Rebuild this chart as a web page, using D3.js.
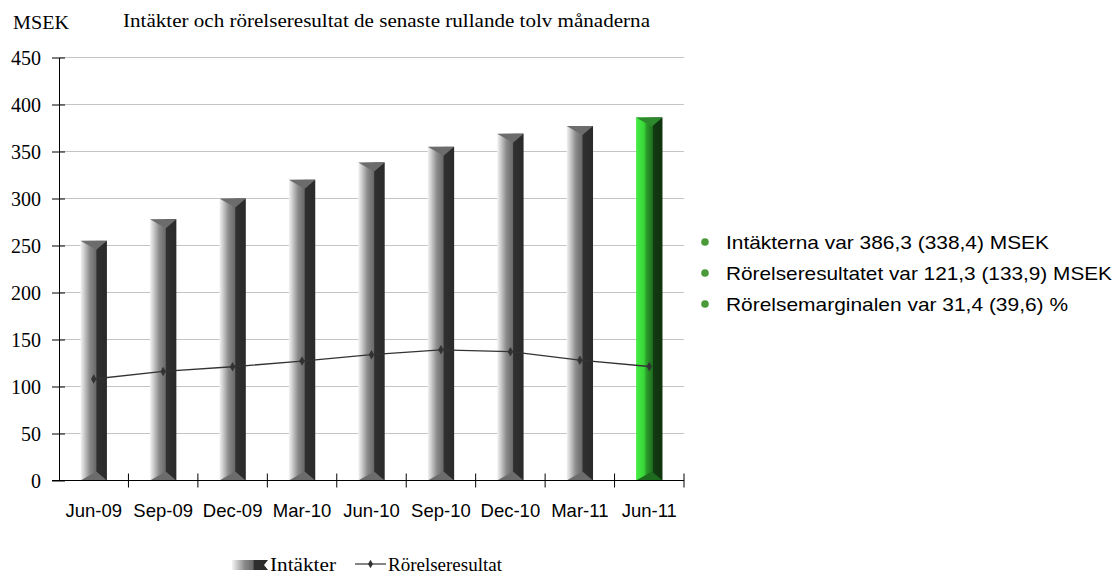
<!DOCTYPE html>
<html><head><meta charset="utf-8">
<script src="https://cdn.jsdelivr.net/npm/d3@7"></script>
<style>body{margin:0;background:#fff;} svg{display:block;}</style>
</head><body>
<svg id="c" width="1118" height="576"></svg>
<script>
const categories = ["Jun-09","Sep-09","Dec-09","Mar-10","Jun-10","Sep-10","Dec-10","Mar-11","Jun-11"];
const intakter = [255, 278, 300, 320, 338.4, 355, 369, 377, 386.3];
const rorelseresultat = [108, 116, 121, 127, 133.9, 139, 137, 128, 121.3];
const yTicks = [0,50,100,150,200,250,300,350,400,450];
const notes = ["Intäkterna var 386,3 (338,4) MSEK","Rörelseresultatet var 121,3 (133,9) MSEK","Rörelsemarginalen var 31,4 (39,6) %"];
const noteWidths = [323, 386, 342];

const SERIF = "'Liberation Serif', 'Times New Roman', serif";
const SANS = "'Liberation Sans', Arial, sans-serif";
const svg = d3.select("#c");
const L = 59, R = 684, T = 57.5, B = 480.5;
const x = d3.scaleBand().domain(categories).range([L,R]).paddingInner(0.62).paddingOuter(0.31);
const y = d3.scaleLinear().domain([0,450]).range([B,T]);

const defs = svg.append("defs");
function grad(id, stops){
  const g = defs.append("linearGradient").attr("id",id).attr("x1","0").attr("x2","1").attr("y1","0").attr("y2","0");
  stops.forEach(s=>g.append("stop").attr("offset",s[0]).attr("stop-color",s[1]));
}
grad("gGray",[[0,"#f4f4f4"],[0.15,"#c8c8c8"],[0.35,"#8a8a8a"],[0.58,"#6a6a6a"],[0.62,"#303030"],[1,"#2a2a2a"]]);
grad("gGreen",[[0,"#44ee44"],[0.3,"#39d639"],[0.4,"#2a9a2a"],[0.62,"#1f701f"],[0.66,"#123a12"],[1,"#0f330f"]]);

// gridlines
svg.append("g").selectAll("line").data(yTicks.filter(d=>d>0)).join("line")
  .attr("x1",L).attr("x2",R).attr("y1",d=>y(d)).attr("y2",d=>y(d))
  .attr("stroke","#c4c4c4").attr("stroke-width",1.2);

// bars
const bw = x.bandwidth();
const last = categories.length-1;
const bars = svg.append("g").selectAll("g").data(categories).join("g");
bars.append("rect")
  .attr("x",d=>x(d)).attr("width",bw)
  .attr("y",(d,i)=>y(intakter[i])).attr("height",(d,i)=>B-y(intakter[i]))
  .attr("fill",(d,i)=>i===last?"url(#gGreen)":"url(#gGray)");
const bev = 9;
bars.append("path").attr("d",(d,i)=>{
  const x0=x(d), x1=x0+bw, t=y(intakter[i]);
  return `M${x0},${t}L${x1},${t}L${x0+bw*0.6},${t+bev}Z`;
}).attr("fill",(d,i)=>i===last?"#2c8a2c":"#6c6c6c");
bars.append("path").attr("d",(d,i)=>{
  const x0=x(d), x1=x0+bw;
  return `M${x0},${B}L${x1},${B}L${x0+bw*0.6},${B-bev}Z`;
}).attr("fill",(d,i)=>i===last?"#1e6a1e":"#6c6c6c");

// y axis
const yAxis = svg.append("g").attr("transform",`translate(${L},0)`)
  .call(d3.axisLeft(y).tickValues(yTicks).tickSize(0).tickPadding(18));
yAxis.selectAll("text").attr("font-family",SERIF).attr("font-size",20).attr("fill","#000").attr("dy","0.35em");
yAxis.select(".domain").attr("stroke","#000");
yAxis.selectAll(".tick").append("line").attr("x1",-7).attr("x2",6).attr("stroke","#000");

// x axis
const xb = svg.append("g").attr("transform",`translate(0,${B})`);
xb.append("line").attr("x1",L-7).attr("x2",R).attr("stroke","#000");
const bounds = d3.range(categories.length+1).map(i=>L+i*(R-L)/categories.length);
xb.selectAll("line.t").data(bounds.slice(1)).join("line").attr("class","t")
  .attr("x1",d=>d).attr("x2",d=>d).attr("y1",-7).attr("y2",7).attr("stroke","#000");
xb.selectAll("text").data(categories).join("text")
  .attr("x",d=>x(d)+bw/2).attr("y",36).attr("text-anchor","middle")
  .attr("font-family",SANS).attr("font-size",18.5).attr("fill","#000")
  .text(d=>d);

// line
const lineGen = d3.line().x((d,i)=>x(categories[i])+bw/2).y(d=>y(d));
svg.append("path").datum(rorelseresultat).attr("d",lineGen)
  .attr("fill","none").attr("stroke","#333").attr("stroke-width",1.3);
svg.append("g").selectAll("path").data(rorelseresultat).join("path")
  .attr("transform",(d,i)=>`translate(${x(categories[i])+bw/2},${y(d)})`)
  .attr("d",d3.symbol(d3.symbolDiamond,26)).attr("fill","#333");

// titles
svg.append("text").attr("x",13).attr("y",29).attr("font-family",SERIF).attr("font-size",19)
  .attr("textLength",56).attr("lengthAdjust","spacingAndGlyphs").text("MSEK");
svg.append("text").attr("x",123).attr("y",27).attr("font-family",SERIF).attr("font-size",19)
  .attr("textLength",527).attr("lengthAdjust","spacingAndGlyphs")
  .text("Intäkter och rörelseresultat de senaste rullande tolv månaderna");

// notes
const ng = svg.append("g").selectAll("g").data(notes).join("g")
  .attr("transform",(d,i)=>`translate(705,${242+i*31})`);
ng.append("circle").attr("r",3.8).attr("cx",0).attr("cy",0).attr("fill","#4a9a3a");
ng.append("text").attr("x",21).attr("y",7).attr("font-family",SANS).attr("font-size",19).attr("fill","#000")
  .attr("textLength",(d,i)=>noteWidths[i]).attr("lengthAdjust","spacingAndGlyphs").text(d=>d);

// legend
const lg = svg.append("g");
lg.append("path").attr("d","M232,560L268,560L264,565L268,570L232,570Z").attr("fill","url(#gGray)");
lg.append("text").attr("x",270).attr("y",571).attr("font-family",SERIF).attr("font-size",19)
  .attr("textLength",66).attr("lengthAdjust","spacingAndGlyphs").text("Intäkter");
lg.append("line").attr("x1",355).attr("x2",386).attr("y1",564).attr("y2",564).attr("stroke","#333").attr("stroke-width",1.2);
lg.append("path").attr("transform","translate(370.5,564)").attr("d",d3.symbol(d3.symbolDiamond,22)).attr("fill","#333");
lg.append("text").attr("x",388).attr("y",571).attr("font-family",SERIF).attr("font-size",19).text("Rörelseresultat");
</script>
</body></html>
